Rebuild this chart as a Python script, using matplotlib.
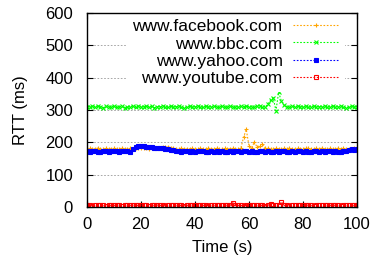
import matplotlib
matplotlib.use('Agg')
import matplotlib.pyplot as plt

# time axis (s)
time_s = list(range(0, 101))

# RTT samples (ms), one per second
facebook = [180, 181, 179, 180, 182, 180, 179, 181, 180, 180,
            181, 179, 180, 182, 180, 179, 181, 180, 181, 182,
            183, 182, 181, 180, 181, 182, 183, 184, 186, 185,
            186, 184, 182, 180, 179, 181, 180, 179, 180, 181,
            180, 179, 181, 180, 180, 182, 179, 180, 181, 180,
            179, 181, 180, 180, 181, 180, 179, 182, 215, 240,
            190, 181, 202, 185, 190, 196, 183, 181, 180, 179,
            181, 180, 179, 181, 180, 182, 180, 179, 181, 180,
            180, 182, 181, 179, 180, 181, 180, 182, 180, 179,
            181, 180, 179, 182, 180, 181, 180, 179, 180, 181,
            180]

bbc = [310, 308, 311, 309, 312, 310, 307, 311, 309, 310,
       312, 308, 310, 311, 306, 309, 310, 312, 309, 311,
       308, 310, 312, 309, 311, 307, 310, 309, 312, 310,
       308, 311, 309, 310, 312, 308, 306, 310, 311, 309,
       310, 312, 309, 308, 311, 310, 309, 312, 310, 308,
       311, 309, 310, 312, 308, 310, 309, 311, 310, 312,
       309, 310, 308, 311, 312, 310, 309, 318, 330, 338,
       298, 355, 328, 315, 310, 308, 311, 309, 312, 310,
       308, 311, 309, 310, 312, 309, 310, 308, 311, 309,
       310, 312, 308, 309, 311, 310, 307, 309, 311, 310,
       309]

yahoo = [172, 171, 173, 172, 170, 171, 173, 172, 171, 172,
         173, 172, 171, 172, 173, 172, 171, 178, 186, 190,
         189, 188, 187, 186, 185, 184, 183, 182, 181, 179,
         178, 176, 175, 173, 172, 171, 172, 173, 171, 172,
         171, 172, 173, 172, 171, 170, 172, 171, 172, 171,
         172, 171, 170, 172, 171, 172, 173, 171, 172, 172,
         171, 172, 170, 171, 172, 173, 171, 172, 170, 171,
         172, 171, 172, 173, 171, 170, 172, 171, 172, 173,
         171, 172, 171, 170, 172, 173, 171, 172, 171, 172,
         173, 171, 172, 170, 171, 172, 174, 176, 178, 177,
         178]

youtube = [5, 5, 4, 5, 6, 5, 5, 4, 5, 5,
           5, 6, 5, 4, 5, 5, 5, 6, 5, 5,
           6, 5, 5, 4, 5, 5, 6, 5, 5, 4,
           5, 5, 6, 5, 5, 5, 4, 5, 6, 5,
           5, 5, 6, 5, 5, 4, 5, 5, 6, 5,
           5, 6, 5, 5, 13, 6, 5, 5, 4, 5,
           5, 5, 6, 5, 5, 5, 4, 5, 10, 6,
           5, 6, 16, 5, 5, 4, 5, 6, 5, 5,
           5, 5, 6, 5, 4, 5, 5, 5, 6, 5,
           5, 6, 5, 5, 4, 5, 5, 6, 5, 5,
           5]

sites = ['www.facebook.com', 'www.bbc.com', 'www.yahoo.com', 'www.youtube.com']
colors = ['#FFA500', '#00FF00', '#0000FF', '#FF0000']
markers = ['+', 'x', 's', 's']

plt.rcParams['font.family'] = ['Liberation Sans', 'DejaVu Sans']
plt.rcParams['font.size'] = 12

fig = plt.figure(figsize=(3.73, 2.61), dpi=100)
ax = fig.add_axes([0.233, 0.207, 0.724, 0.743])

series = [facebook, bbc, yahoo, youtube]
for i in range(len(sites)):
    filled = colors[i] if i != 3 else 'none'
    ax.plot(time_s, series[i], color=colors[i], linestyle=(0, (1.5, 1.5)), linewidth=0.8,
            marker=markers[i], markersize=3 if i < 2 else 2.5, markeredgewidth=0.8,
            markerfacecolor=filled, label=sites[i])

ax.set_xlim(0, 100)
ax.set_ylim(0, 600)
ax.set_xticks(range(0, 101, 20))
ax.set_yticks(range(0, 601, 100))
ax.tick_params(direction='in', top=True, right=True, length=4, width=0.8, labelsize=12)
ax.tick_params(axis='y', pad=10)
ax.tick_params(axis='x', pad=7)
ax.yaxis.grid(True, color='#999999', linestyle=(0, (2, 2)), linewidth=0.6)
ax.set_axisbelow(True)
ax.set_xlabel('Time (s)', fontsize=12, labelpad=6)
ax.set_ylabel('RTT (ms)', fontsize=12, labelpad=12)
for sp in ax.spines.values():
    sp.set_linewidth(1.0)
    sp.set_zorder(6)

leg = ax.legend(loc='upper right', bbox_to_anchor=(0.956, 1.0), markerfirst=False,
                handlelength=2.65, handletextpad=0.6, labelspacing=0.12,
                borderpad=0.35, borderaxespad=0, fontsize=12.5, fancybox=False,
                framealpha=1, facecolor='white', edgecolor='none')

fig.savefig('out.png', dpi=100)
